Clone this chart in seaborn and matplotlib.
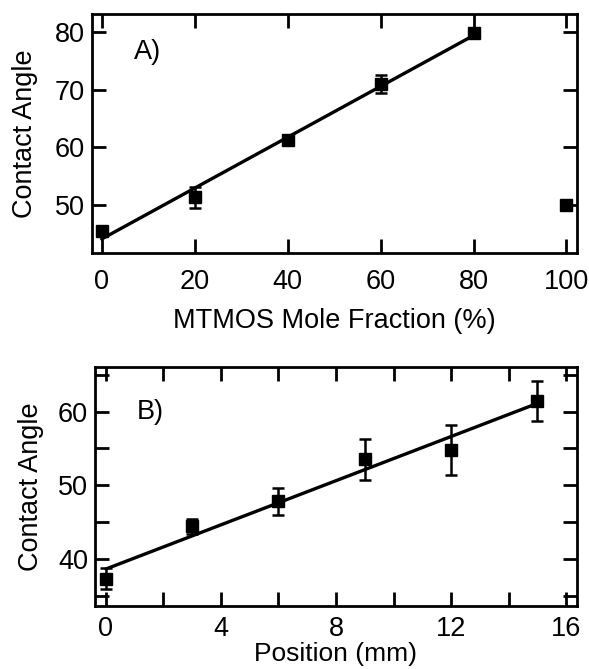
import numpy as np
import pandas as pd
import matplotlib
matplotlib.use("Agg")
import matplotlib.pyplot as plt
import seaborn as sns
from matplotlib.ticker import MultipleLocator

# ---- data ----
frac_x = [0, 20, 40, 60, 80, 100]
frac_angle = [45.4, 51.3, 61.2, 71.0, 79.8, 49.9]
frac_err = [0.5, 1.8, 0.5, 1.6, 0.5, 0.5]
frac_fit_n = 5  # linear fit over 0-80 %

pos_x = [0, 3, 6, 9, 12, 15]
pos_angle = [37.3, 44.4, 47.8, 53.5, 54.8, 61.4]
pos_err = [1.4, 1.0, 1.8, 2.8, 3.4, 2.7]

frac_ticks = [0, 20, 40, 60, 80, 100]
frac_yticks = [50, 60, 70, 80]
pos_ticks = [0, 4, 8, 12, 16]
pos_yticks = [40, 50, 60]

sns.set_theme(style="ticks")
plt.rcParams["font.family"] = ["Liberation Sans", "DejaVu Sans"]
plt.rcParams["text.color"] = "black"
plt.rcParams["axes.labelcolor"] = "black"
plt.rcParams["xtick.color"] = "black"
plt.rcParams["ytick.color"] = "black"
plt.rcParams["axes.edgecolor"] = "black"

FS = 19.5
LW = 2.0

fig = plt.figure(figsize=(5.89, 6.69), dpi=100)
ax1 = fig.add_axes([0.1557, 0.6214, 0.8234, 0.3577])
ax2 = fig.add_axes([0.1613, 0.0942, 0.8178, 0.3577])

df1 = pd.DataFrame({"x": frac_x, "y": frac_angle, "e": frac_err})
df2 = pd.DataFrame({"x": pos_x, "y": pos_angle, "e": pos_err})

def style(ax):
    ax.tick_params(which="both", direction="in", top=True, right=True,
                   length=10, width=LW, labelsize=FS, pad=5)
    for s in ax.spines.values():
        s.set_linewidth(LW)
        s.set_color("black")

# Panel A
sns.regplot(data=df1.iloc[:frac_fit_n], x="x", y="y", ax=ax1, scatter=False,
            ci=None, color="black", line_kws={"linewidth": 2.4})
ax1.errorbar(df1["x"], df1["y"], yerr=df1["e"], fmt="s", color="black",
             markersize=8.5, capsize=4.5, elinewidth=1.8, capthick=1.8)
ax1.set_xlim(-2.15, 102.2)
ax1.set_ylim(41.56, 83.18)
ax1.set_xticks(frac_ticks)
ax1.set_yticks(frac_yticks)
style(ax1)
ax1.tick_params(axis="x", pad=11)
ax1.set_xlabel("MTMOS Mole Fraction (%)", fontsize=FS, labelpad=10)
ax1.set_ylabel("Contact Angle", fontsize=FS, labelpad=12)
ax1.text(0.116, 0.842, "A)", transform=ax1.transAxes, fontsize=FS,
         ha="center", va="center")

# Panel B
sns.regplot(data=df2, x="x", y="y", ax=ax2, scatter=False, ci=None,
            color="black", line_kws={"linewidth": 2.4})
ax2.errorbar(df2["x"], df2["y"], yerr=df2["e"], fmt="s", color="black",
             markersize=8.5, capsize=4.5, elinewidth=1.8, capthick=1.8)
ax2.set_xlim(-0.38, 16.37)
ax2.set_ylim(33.6, 66.1)
ax2.set_xticks(pos_ticks)
ax2.set_yticks(pos_yticks)
ax2.xaxis.set_minor_locator(MultipleLocator(2))
ax2.yaxis.set_minor_locator(MultipleLocator(5))
style(ax2)
ax2.tick_params(axis="x", pad=7)
ax2.set_xlabel("Position (mm)", fontsize=19, labelpad=0)
ax2.set_ylabel("Contact Angle", fontsize=FS, labelpad=10)
ax2.text(0.114, 0.812, "B)", transform=ax2.transAxes, fontsize=FS,
         ha="center", va="center")

fig.savefig("out.png", dpi=100)
